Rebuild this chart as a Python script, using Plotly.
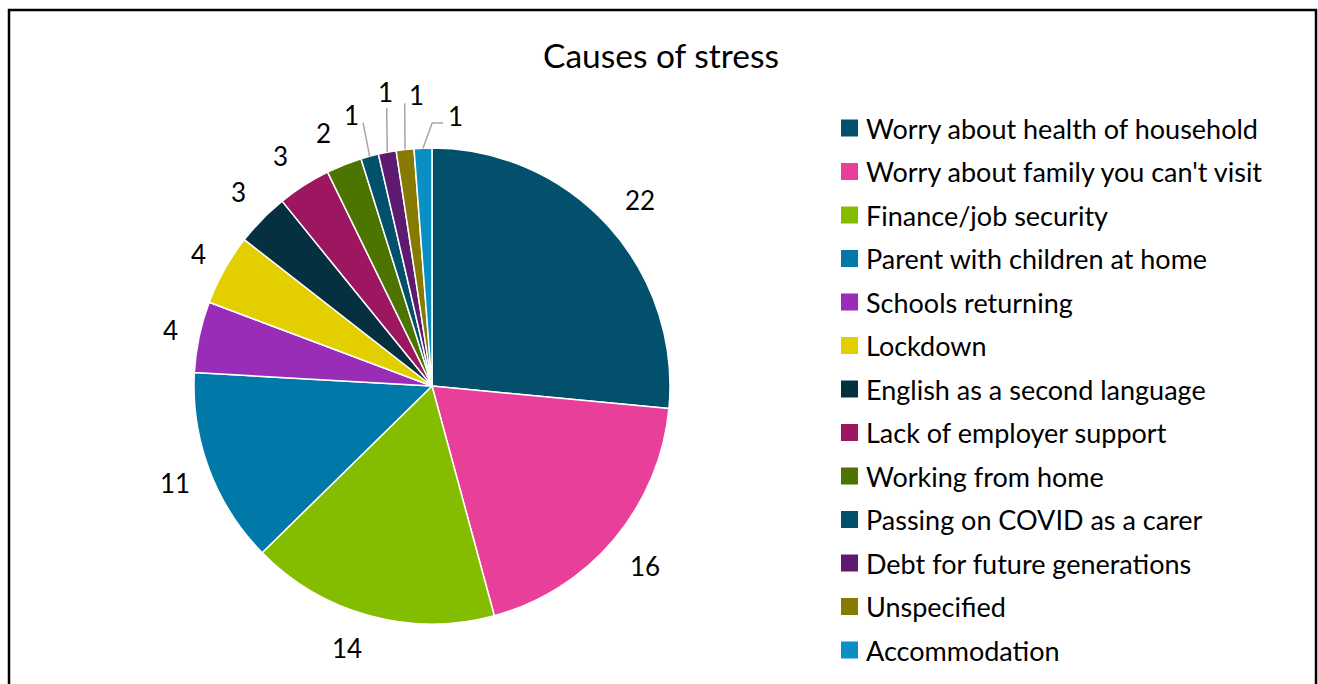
import math
import plotly.graph_objects as go

# ---- data ----
categories = [
    "Worry about health of household",
    "Worry about family you can't visit",
    "Finance/job security",
    "Parent with children at home",
    "Schools returning",
    "Lockdown",
    "English as a second language",
    "Lack of employer support",
    "Working from home",
    "Passing on COVID as a carer",
    "Debt for future generations",
    "Unspecified",
    "Accommodation",
]
values = [22, 16, 14, 11, 4, 4, 3, 3, 2, 1, 1, 1, 1]
colors = [
    "#02506B", "#E8409A", "#84BD00", "#0079A8", "#9A2DB8", "#E3CE00", "#04303F",
    "#9C1660", "#4E7400", "#03506C", "#5D1A6E", "#877A00", "#0A8FC5",
]
title = "Causes of stress"

# ---- layout / style ----
W, H = 1318, 684
CX, CY, R = 432, 386, 238
FONT = "Lato"
LABEL_SIZE = 26
LEGEND_SIZE = 27
# label placement (angle nudge in degrees, distance in px) per slice
label_place = [(0.5, 279), (0.1, 279), (2.8, 275), (0, 275), (0.2, 267), (0.2, 268),
               (0.5, 274), (-0.8, 275), (-1.6, 275),
               (-1.4, 283), (1.9, 298), (3.5, 291), (7.1, 271)]
# leader lines (angle nudge, distance, horizontal tail) or None
leader = [None] * 9 + [(0.5, 272, 0), (1.6, 282, 0), (1.0, 284, 0), (2.2, 263, 11)]

fig = go.Figure()
fig.add_trace(go.Pie(
    labels=categories, values=values, sort=False, direction="clockwise", rotation=0,
    marker=dict(colors=colors, line=dict(color="white", width=1.5)),
    textinfo="none", hoverinfo="label+value", showlegend=False,
    domain=dict(x=[(CX - R) / W, (CX + R) / W], y=[(H - CY - R) / H, (H - CY + R) / H]),
))
fig.add_trace(go.Scatter(x=[0], y=[0], mode="markers", marker=dict(opacity=0),
                         hoverinfo="skip", showlegend=False))


def pt(angle_deg, dist):
    a = math.radians(angle_deg)
    return CX + dist * math.sin(a), CY - dist * math.cos(a)


total = sum(values)
annotations = []
shapes = []
cum = 0
for i, v in enumerate(values):
    mid = (cum + v / 2) / total * 360
    cum += v
    nud, dist = label_place[i]
    x, y = pt(mid + nud, dist)
    annotations.append(dict(x=x, y=y, xref="x", yref="y", text=str(v), showarrow=False,
                            xanchor="center", yanchor="middle",
                            font=dict(family=FONT, size=LABEL_SIZE, color="#000000")))
    if leader[i] is not None:
        ln, ld, tail = leader[i]
        x0, y0 = pt(mid, R)
        x1, y1 = pt(mid + ln, ld)
        path = f"M {x0},{y0} L {x1},{y1}"
        if tail:
            path += f" L {x1 + tail},{y1}"
        shapes.append(dict(type="path", path=path, xref="x", yref="y",
                           line=dict(color="#A6A6A6", width=1.5)))

# legend (manual to match spacing)
LEG_X, LEG_Y0, LEG_DY, SQ = 841, 128, 43.5, 17
for i, (c, col) in enumerate(zip(categories, colors)):
    yy = LEG_Y0 + i * LEG_DY
    shapes.append(dict(type="rect", xref="x", yref="y", x0=LEG_X, x1=LEG_X + SQ,
                       y0=yy - SQ / 2, y1=yy + SQ / 2, fillcolor=col, line=dict(width=0)))
    annotations.append(dict(x=LEG_X + 23, y=yy, xref="x", yref="y", text=c, showarrow=False,
                            xanchor="left", yanchor="middle",
                            font=dict(family=FONT, size=LEGEND_SIZE, color="#000000")))

# title
annotations.append(dict(x=661, y=55, xref="x", yref="y", text=title, showarrow=False,
                        xanchor="center", yanchor="middle",
                        font=dict(family=FONT, size=33.5, color="#000000")))

# chart border
shapes.append(dict(type="rect", xref="x", yref="y", x0=9, x1=1316, y0=10, y1=720,
                   line=dict(color="#000000", width=2.5), fillcolor="rgba(0,0,0,0)", layer="above"))

fig.update_layout(
    width=W, height=H, margin=dict(l=0, r=0, t=0, b=0),
    paper_bgcolor="white", plot_bgcolor="white",
    xaxis=dict(range=[0, W], visible=False, fixedrange=True, domain=[0, 1]),
    yaxis=dict(range=[H, 0], visible=False, fixedrange=True, domain=[0, 1]),
    annotations=annotations, shapes=shapes, showlegend=False,
)

fig.write_html("out.html", config={"displayModeBar": False},
               post_script="document.body.style.margin='0';document.body.style.overflow='hidden';")
